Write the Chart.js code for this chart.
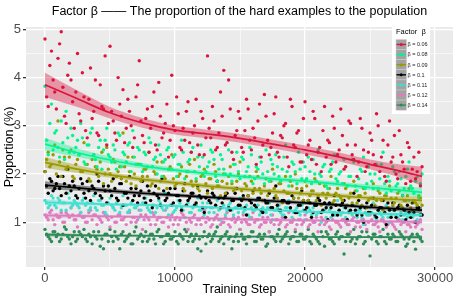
<!DOCTYPE html>
<html>
<head>
<meta charset="utf-8">
<script src="https://cdn.jsdelivr.net/npm/chart.js@4.4.0/dist/chart.umd.min.js"></script>
<style>
body{margin:0;background:#fff}
#wrap{width:457px;height:297px}
</style>
</head>
<body>
<div id="wrap"><canvas id="myChart" width="457" height="297"></canvas></div>
<script>
// training steps where the proportions were logged (two interleaved runs)
var steps=[0,250,500,750,1000,1250,1500,1750,2000,2250,
2500,2750,3000,3250,3500,3750,4000,4250,4500,4750,
5000,5250,5500,5750,6000,6250,6500,6750,7000,7250,
7500,7750,8000,8250,8500,8750,9000,9250,9500,9750,
10000,10250,10500,10750,11000,11250,11500,11750,12000,12250,
12500,12750,13000,13250,13500,13750,14000,14250,14500,14750,
15000,15250,15500,15750,16000,16250,16500,16750,17000,17250,
17500,17750,18000,18250,18500,18750,19000,19250,19500,19750,
20000,20250,20500,20750,21000,21250,21500,21750,22000,22250,
22500,22750,23000,23250,23500,23750,24000,24250,24500,24750,
25000,25250,25500,25750,26000,26250,26500,26750,27000,27250,
27500,27750,28000,28250,28500,28750,29000]
var steps2=[125,375,625,875,1125,1375,1625,1875,2125,2375,
2625,2875,3125,3375,3625,3875,4125,4375,4625,4875,
5125,5375,5625,5875,6125,6375,6625,6875,7125,7375,
7625,7875,8125,8375,8625,8875,9125,9375,9625,9875,
10125,10375,10625,10875,11125,11375,11625,11875,12125,12375,
12625,12875,13125,13375,13625,13875,14125,14375,14625,14875,
15125,15375,15625,15875,16125,16375,16625,16875,17125,17375,
17625,17875,18125,18375,18625,18875,19125,19375,19625,19875,
20125,20375,20625,20875,21125,21375,21625,21875,22125,22375,
22625,22875,23125,23375,23625,23875,24125,24375,24625,24875,
25125,25375,25625,25875,26125,26375,26625,26875,27125,27375,
27625,27875,28125,28375,28625,28875]

var betaLabels=['β = 0.06','β = 0.08','β = 0.09','β = 0.1','β = 0.11','β = 0.12','β = 0.14']
var colors=['#DC143C','#00F590','#999900','#000000','#40E0D0','#DE7CC0','#2E8B57']

var beta006=[4.80,3.40,4.55,3.70,4.40,4.95,3.20,4.05,3.95,2.95,
4.50,3.10,3.60,2.75,4.20,3.30,2.85,3.85,3.35,2.60,
4.65,3.10,2.70,3.45,3.75,2.95,3.30,2.55,3.60,4.35,
2.80,3.15,2.45,3.40,2.60,3.90,2.75,3.05,2.35,4.05,
2.90,3.25,2.50,2.70,3.50,2.45,3.00,2.60,3.30,2.40,
4.45,2.75,3.10,2.55,3.70,4.15,2.65,3.35,2.30,2.90,
3.15,2.45,3.55,2.70,2.95,2.20,3.45,2.60,3.20,2.40,
2.85,3.60,2.35,2.75,3.05,2.15,3.40,2.55,2.90,2.25,
3.50,2.60,2.30,3.15,2.45,2.05,3.40,2.70,2.20,2.95,
2.40,3.35,2.10,2.60,3.05,2.30,1.95,3.15,2.50,2.15,
2.85,2.40,3.25,2.05,2.70,1.85,3.10,2.35,2.00,2.90,
2.25,1.80,2.55,2.10,1.90,2.45,2.15]
var beta006b=[3.60,4.25,3.95,3.35,4.70,3.80,3.05,4.30,3.50,3.70,
3.25,4.10,2.90,3.55,3.15,3.95,2.80,3.40,4.45,3.05,
3.30,2.85,4.00,3.20,2.65,3.55,3.00,2.75,3.85,3.10,
2.65,3.35,2.95,3.70,2.50,3.20,2.85,3.45,2.70,3.00,
3.60,2.55,2.95,3.30,2.65,2.85,3.55,2.40,3.15,2.75,
2.95,3.40,2.50,2.85,3.20,2.60,3.95,2.45,2.80,3.30,
2.55,2.90,3.35,2.50,2.75,3.10,2.35,3.65,2.70,2.55,
3.25,2.45,2.80,3.00,2.35,3.55,2.60,2.85,2.25,3.15,
2.40,2.70,3.30,2.20,2.55,2.90,2.35,2.65,3.20,2.25,
2.50,2.80,2.15,3.10,2.40,2.60,2.25,2.95,2.05,2.45,
2.70,2.20,3.00,2.35,1.95,2.60,2.25,2.80,1.90,2.40,
2.10,2.65,1.85,2.35,2.05,1.75]
var beta008=[3.82,2.40,3.45,2.85,2.55,3.10,2.30,2.75,2.95,2.45,
2.70,3.05,2.25,2.60,2.85,2.40,2.15,2.70,2.50,2.95,
2.35,2.60,2.10,2.80,2.45,2.25,2.65,2.90,2.20,2.50,
2.05,2.40,2.75,2.15,2.35,2.60,1.95,2.30,2.55,2.10,
2.40,2.20,2.70,1.90,2.25,2.45,2.05,2.35,2.60,1.95,
2.15,2.50,2.30,1.85,2.40,2.10,2.65,2.00,2.20,2.45,
1.90,2.30,2.05,2.55,1.80,2.15,2.35,2.00,2.50,1.85,
2.20,2.40,1.95,2.10,2.60,1.75,2.25,2.05,2.45,1.90,
2.15,2.35,1.80,2.00,2.50,1.95,2.20,1.70,2.10,2.40,
1.85,2.05,2.30,1.75,1.95,2.25,1.65,2.10,2.35,1.80,
2.00,1.70,2.20,1.90,2.45,1.60,1.85,2.15,1.75,2.05,
1.55,1.95,2.25,1.70,1.85,1.50,2.00]
var beta008b=[2.70,3.05,2.50,2.90,2.35,2.65,3.30,2.45,2.80,2.55,
2.40,2.75,2.20,2.60,2.95,2.30,2.55,2.10,2.70,2.40,
2.25,2.50,2.85,2.15,2.40,2.60,2.05,2.35,2.55,2.20,
2.45,2.15,2.65,2.30,2.00,2.40,2.25,2.50,2.10,2.35,
1.95,2.20,2.45,2.05,2.30,2.55,1.90,2.15,2.35,2.05,
2.25,2.45,1.95,2.10,2.30,2.00,2.50,1.85,2.20,2.05,
2.35,1.95,2.15,2.40,1.90,2.10,2.25,1.80,2.05,2.30,
2.00,2.15,1.85,2.35,2.05,1.95,2.20,1.80,2.10,2.25,
1.90,2.05,2.30,1.85,2.00,2.15,1.75,2.05,2.25,1.90,
2.00,1.80,2.15,1.95,2.30,1.75,1.90,2.05,1.70,2.15,
1.85,2.00,1.70,2.20,1.80,1.95,1.65,2.05,1.80,1.90,
1.70,2.10,1.75,1.60,1.95,1.80]
var beta009=[2.05,2.45,2.20,2.60,3.10,1.95,2.35,2.15,2.50,1.90,
2.30,2.05,2.65,2.20,1.85,2.40,2.10,2.25,1.80,2.55,
2.00,2.30,1.95,2.15,2.85,1.85,2.05,2.35,1.75,2.20,
1.95,2.10,2.45,1.80,2.00,1.70,2.25,1.90,2.10,2.40,
1.75,1.95,2.15,1.65,2.05,1.85,2.30,1.70,1.95,2.10,
1.60,1.90,2.20,1.75,1.55,2.00,1.80,2.15,1.65,1.85,
2.25,1.50,1.75,1.95,1.60,2.05,1.70,1.45,1.90,1.65,
2.10,1.55,1.80,1.40,1.95,1.60,1.75,2.00,1.50,1.70,
1.85,1.45,1.65,1.90,1.55,1.35,1.75,1.60,1.95,1.45,
1.70,1.50,1.80,1.35,1.60,1.85,1.40,1.55,1.70,1.30,
1.50,1.80,1.45,1.60,1.25,1.55,1.75,1.35,1.50,1.65,
1.30,1.45,1.70,1.25,1.40,1.55,1.35]
var beta009b=[2.30,2.15,2.40,2.00,2.25,2.50,2.10,2.35,1.95,2.20,
2.40,2.05,2.20,1.90,2.30,2.15,1.95,2.45,2.00,2.10,
1.85,2.25,2.05,1.90,2.15,2.35,1.80,2.00,2.20,1.85,
2.10,1.95,1.75,2.05,2.25,1.85,1.95,1.70,2.15,1.90,
1.80,2.00,1.70,1.95,2.20,1.75,1.85,1.65,2.00,1.80,
1.90,1.70,2.05,1.75,1.85,1.60,1.95,1.80,1.70,2.00,
1.65,1.80,1.55,1.85,1.70,1.95,1.60,1.75,1.55,1.85,
1.70,1.50,1.80,1.65,1.60,1.85,1.50,1.70,1.60,1.45,
1.75,1.55,1.65,1.45,1.80,1.60,1.50,1.70,1.40,1.60,
1.55,1.45,1.70,1.50,1.40,1.65,1.55,1.35,1.60,1.45,
1.50,1.35,1.65,1.45,1.55,1.30,1.50,1.40,1.60,1.35,
1.45,1.55,1.30,1.45,1.35,1.50]
var beta010=[2.05,1.60,1.85,1.70,1.95,1.55,1.80,2.10,1.65,1.75,
1.50,1.90,1.60,1.85,1.45,1.70,2.00,1.55,1.75,1.40,
1.65,1.90,1.50,1.80,1.35,1.60,1.95,1.45,1.70,1.55,
1.85,1.40,1.65,1.30,1.75,1.50,1.90,1.45,1.60,1.35,
1.70,1.55,1.25,1.80,1.45,1.60,1.35,1.75,1.50,1.20,
1.65,1.40,1.55,1.85,1.30,1.50,1.60,1.25,1.45,1.70,
1.35,1.55,1.15,1.45,1.65,1.30,1.50,1.20,1.40,1.60,
1.30,1.75,1.25,1.45,1.10,1.40,1.55,1.20,1.35,1.65,
1.25,1.45,1.10,1.35,1.50,1.20,1.40,1.05,1.30,1.55,
1.15,1.35,1.45,1.05,1.25,1.60,1.15,1.30,1.00,1.40,
1.20,1.50,1.10,1.30,1.45,0.95,1.25,1.40,1.10,1.35,
1.55,1.05,1.20,1.40,1.00,1.30,1.15]
var beta010b=[1.75,1.90,1.65,1.80,1.70,1.95,1.60,1.75,1.85,1.55,
1.70,1.80,1.50,1.65,1.75,1.60,1.85,1.50,1.65,1.75,
1.55,1.70,1.45,1.80,1.60,1.50,1.70,1.55,1.40,1.65,
1.50,1.75,1.45,1.60,1.55,1.35,1.65,1.50,1.70,1.40,
1.55,1.45,1.65,1.35,1.50,1.60,1.40,1.55,1.30,1.50,
1.45,1.60,1.35,1.50,1.40,1.55,1.30,1.45,1.60,1.35,
1.45,1.30,1.55,1.40,1.35,1.50,1.25,1.45,1.40,1.30,
1.50,1.35,1.25,1.45,1.40,1.30,1.50,1.20,1.35,1.45,
1.30,1.40,1.20,1.35,1.45,1.25,1.30,1.40,1.15,1.35,
1.25,1.40,1.30,1.20,1.35,1.25,1.45,1.15,1.30,1.20,
1.35,1.15,1.25,1.30,1.20,1.40,1.10,1.25,1.30,1.15,
1.25,1.35,1.10,1.20,1.30,1.15]
var beta011=[1.45,1.30,1.55,1.35,1.50,1.25,1.40,1.60,1.30,1.45,
1.35,1.20,1.50,1.40,1.30,1.55,1.25,1.45,1.35,1.15,
1.50,1.30,1.40,1.20,1.55,1.35,1.25,1.45,1.30,1.10,
1.40,1.50,1.25,1.35,1.20,1.45,1.30,1.60,1.15,1.35,
1.25,1.45,1.30,1.10,1.40,1.20,1.35,1.50,1.25,1.15,
1.40,1.30,1.20,1.45,1.05,1.35,1.25,1.40,1.15,1.30,
1.50,1.20,1.35,1.10,1.25,1.45,1.15,1.30,1.20,1.40,
1.05,1.25,1.35,1.15,1.30,1.45,1.10,1.25,1.20,1.35,
1.05,1.30,1.15,1.40,1.20,1.00,1.25,1.35,1.10,1.20,
1.45,1.15,1.30,1.05,1.20,1.35,1.10,1.25,0.95,1.15,
1.30,1.40,1.05,1.20,1.10,1.35,1.00,1.25,1.15,1.30,
1.05,1.20,1.45,1.10,1.00,1.25,1.15]
var beta011b=[1.40,1.35,1.50,1.30,1.45,1.40,1.25,1.50,1.35,1.40,
1.30,1.45,1.35,1.25,1.40,1.30,1.45,1.35,1.20,1.40,
1.35,1.25,1.45,1.30,1.35,1.20,1.40,1.30,1.35,1.25,
1.40,1.30,1.20,1.35,1.30,1.40,1.25,1.30,1.35,1.20,
1.30,1.40,1.25,1.35,1.20,1.30,1.35,1.25,1.40,1.30,
1.20,1.30,1.35,1.25,1.30,1.15,1.35,1.25,1.30,1.20,
1.30,1.25,1.15,1.30,1.25,1.35,1.20,1.25,1.30,1.15,
1.25,1.30,1.20,1.15,1.30,1.25,1.20,1.30,1.15,1.25,
1.20,1.25,1.30,1.15,1.20,1.25,1.10,1.25,1.20,1.15,
1.25,1.20,1.10,1.25,1.15,1.20,1.25,1.10,1.20,1.15,
1.20,1.10,1.25,1.15,1.20,1.10,1.15,1.25,1.10,1.20,
1.15,1.10,1.20,1.15,1.05,1.15]
var beta012=[1.15,1.05,1.25,0.95,1.10,1.20,1.00,1.15,1.30,1.05,
0.90,1.20,1.10,1.00,1.25,1.15,0.95,1.05,1.20,1.10,
0.90,1.30,1.00,1.15,1.05,0.95,1.20,1.10,1.00,1.25,
0.85,1.15,1.05,1.20,0.95,1.10,1.00,1.25,0.90,1.15,
1.05,0.95,1.20,1.10,0.85,1.00,1.15,1.05,0.95,1.25,
1.10,0.90,1.05,1.15,0.95,1.00,1.20,0.90,1.10,1.05,
0.85,1.15,1.00,0.95,1.20,1.05,0.90,1.10,1.00,0.80,
1.15,1.05,0.95,1.10,0.90,1.20,1.00,0.85,1.05,0.95,
1.15,0.90,1.05,1.00,0.80,1.10,0.95,1.05,0.85,1.15,
1.00,0.90,1.05,0.95,0.80,1.10,1.00,0.90,1.05,0.85,
1.15,0.95,1.00,0.80,1.05,0.90,1.10,0.95,0.85,1.05,
1.00,0.80,0.95,1.10,0.90,1.00,0.85]
var beta012b=[1.10,1.20,1.05,1.15,1.10,1.00,1.20,1.10,1.15,1.05,
1.15,1.10,1.00,1.20,1.05,1.15,1.10,1.00,1.15,1.05,
1.10,1.00,1.15,1.05,1.10,1.20,1.00,1.10,1.05,1.15,
1.05,1.10,0.95,1.15,1.05,1.10,1.00,1.10,1.05,0.95,
1.10,1.05,1.15,1.00,1.05,1.10,0.95,1.05,1.10,1.00,
1.05,0.95,1.10,1.05,1.00,1.10,0.95,1.05,1.00,1.10,
1.00,1.05,0.95,1.10,1.00,1.05,0.95,1.00,1.10,1.00,
0.95,1.05,1.00,1.10,0.95,1.00,1.05,0.95,1.05,1.00,
1.05,0.95,1.00,1.10,0.95,1.05,1.00,0.90,1.05,1.00,
0.95,1.05,1.00,0.95,1.05,0.90,1.00,1.05,0.95,1.00,
1.05,0.95,0.90,1.05,1.00,0.95,1.00,0.90,1.05,0.95,
1.00,0.95,0.90,1.00,0.95,1.05]
var beta014=[0.85,0.70,0.60,0.80,0.75,0.65,0.90,0.70,0.55,0.80,
0.65,0.75,0.85,0.60,0.70,0.80,0.65,0.50,0.45,0.75,
0.85,0.60,0.70,0.45,0.80,0.65,0.75,0.55,0.90,0.70,
0.60,0.80,0.65,0.75,0.55,0.85,0.70,0.60,0.75,0.65,
0.80,0.55,0.70,0.85,0.60,0.75,0.65,0.45,0.40,0.80,
0.70,0.60,0.75,0.90,0.65,0.55,0.80,0.70,0.60,0.75,
0.85,0.65,0.55,0.70,0.80,0.60,0.75,0.65,0.50,0.80,
0.70,0.60,0.85,0.65,0.75,0.55,0.70,0.80,0.60,0.75,
0.65,0.85,0.55,0.70,0.60,0.80,0.50,0.75,0.65,0.55,
0.80,0.70,0.34,0.75,0.60,0.85,0.65,0.70,0.55,0.80,
0.30,0.75,0.60,0.70,0.85,0.55,0.65,0.75,0.60,0.80,
0.70,0.50,0.65,0.75,0.44,0.70,0.60]
var beta014b=[0.75,0.65,0.80,0.70,0.60,0.75,0.85,0.65,0.70,0.60,
0.80,0.70,0.65,0.75,0.55,0.70,0.80,0.65,0.75,0.60,
0.70,0.80,0.65,0.75,0.60,0.70,0.55,0.80,0.65,0.75,
0.70,0.60,0.75,0.65,0.80,0.70,0.55,0.75,0.65,0.70,
0.60,0.75,0.65,0.80,0.70,0.60,0.75,0.65,0.70,0.55,
0.75,0.65,0.80,0.60,0.70,0.75,0.65,0.45,0.70,0.60,
0.75,0.65,0.70,0.80,0.60,0.70,0.65,0.75,0.55,0.70,
0.65,0.75,0.60,0.70,0.80,0.65,0.70,0.60,0.75,0.65,
0.70,0.60,0.75,0.65,0.55,0.70,0.80,0.65,0.60,0.75,
0.65,0.70,0.60,0.75,0.65,0.55,0.70,0.80,0.60,0.70,
0.65,0.75,0.55,0.70,0.60,0.75,0.65,0.70,0.60,0.75,
0.65,0.55,0.70,0.60,0.75,0.65]
var pointSeries=[beta006,beta008,beta009,beta010,beta011,beta012,beta014]
var pointSeries2=[beta006b,beta008b,beta009b,beta010b,beta011b,beta012b,beta014b]

// smoothed trend (loess), with half width of the band
var fitSteps=[0,2500,5000,7500,10000,12500,15000,17500,20000,22500,25000,27500,29000]
var fit006=[3.85,3.56,3.27,3.06,2.91,2.83,2.74,2.62,2.50,2.36,2.20,2.05,1.95]
var fit008=[2.62,2.44,2.29,2.17,2.08,2.01,1.95,1.90,1.85,1.79,1.72,1.66,1.62]
var fit009=[2.24,2.10,1.98,1.89,1.82,1.75,1.69,1.64,1.59,1.55,1.50,1.47,1.45]
var fit010=[1.77,1.71,1.65,1.60,1.56,1.52,1.48,1.44,1.40,1.36,1.31,1.27,1.25]
var fit011=[1.41,1.39,1.37,1.36,1.34,1.31,1.28,1.25,1.22,1.20,1.18,1.16,1.15]
var fit012=[1.14,1.13,1.12,1.11,1.10,1.08,1.06,1.05,1.04,1.03,1.02,1.01,1.00]
var fit014=[0.74,0.73,0.72,0.72,0.71,0.71,0.70,0.70,0.70,0.69,0.69,0.69,0.69]
var band006=[0.25,0.17,0.12,0.10,0.09,0.09,0.09,0.09,0.09,0.09,0.10,0.14,0.20]
var band008=[0.13,0.09,0.07,0.06,0.05,0.05,0.05,0.05,0.05,0.05,0.06,0.08,0.10]
var band009=[0.11,0.08,0.06,0.05,0.05,0.05,0.05,0.05,0.05,0.05,0.05,0.07,0.09]
var band010=[0.08,0.06,0.05,0.04,0.04,0.04,0.04,0.04,0.04,0.04,0.04,0.05,0.07]
var band011=[0.06,0.04,0.03,0.03,0.03,0.03,0.03,0.03,0.03,0.03,0.03,0.04,0.05]
var band012=[0.05,0.04,0.03,0.03,0.03,0.03,0.03,0.03,0.03,0.03,0.03,0.03,0.05]
var band014=[0.04,0.03,0.02,0.02,0.02,0.02,0.02,0.02,0.02,0.02,0.02,0.03,0.04]
var fits=[fit006,fit008,fit009,fit010,fit011,fit012,fit014]
var bands=[band006,band008,band009,band010,band011,band012,band014]

// grid positions (labelled ones are the majors)
var xGrid=[0,5000,10000,15000,20000,25000,30000]
var xTicks=[0,10000,20000,30000]
var yGrid=[0.5,1,1.5,2,2.5,3,3.5,4,4.5,5]
var yTicks=[1,2,3,4,5]

function withAlpha(hex,a){
    var r=parseInt(hex.slice(1,3),16),g=parseInt(hex.slice(3,5),16),b=parseInt(hex.slice(5,7),16)
    return 'rgba('+r+','+g+','+b+','+a+')'
}

var datasets=[]
for (let i = 0; i < pointSeries.length; i++) {
    var pts=steps.map((s,j)=>({x:s,y:pointSeries[i][j]}))
    pts=pts.concat(steps2.map((s,j)=>({x:s,y:pointSeries2[i][j]})))
    datasets.push({
        type:'scatter',
        label:betaLabels[i],
        data:pts,
        backgroundColor:colors[i],
        borderWidth:0,
        pointRadius:1.7,
        order:2
    })
}
for (let i = 0; i < fits.length; i++) {
    datasets.push({
        type:'line',
        data:fitSteps.map((s,j)=>({x:s,y:fits[i][j]+bands[i][j]})),
        borderWidth:0,
        pointRadius:0,
        fill:false,
        cubicInterpolationMode:'monotone',
        order:1
    })
    datasets.push({
        type:'line',
        data:fitSteps.map((s,j)=>({x:s,y:fits[i][j]-bands[i][j]})),
        borderWidth:0,
        pointRadius:0,
        fill:'-1',
        backgroundColor:withAlpha(colors[i],0.4),
        cubicInterpolationMode:'monotone',
        order:1
    })
    datasets.push({
        type:'line',
        data:fitSteps.map((s,j)=>({x:s,y:fits[i][j]})),
        borderColor:colors[i],
        borderWidth:1.7,
        pointRadius:0,
        fill:false,
        cubicInterpolationMode:'monotone',
        order:0
    })
}

// grey panel like ggplot
var panelBg={
    id:'panelBg',
    beforeDraw(chart){
        var a=chart.chartArea, ctx=chart.ctx
        ctx.save()
        ctx.fillStyle='#EBEBEB'
        ctx.fillRect(a.left,a.top,a.right-a.left,a.bottom-a.top)
        ctx.restore()
    }
}

// title + legend box drawn by hand
var titleLegend={
    id:'titleLegend',
    afterDraw(chart){
        var a=chart.chartArea, ctx=chart.ctx
        ctx.save()
        ctx.fillStyle='#000'
        ctx.font='12.5px "Liberation Sans", Arial, sans-serif'
        ctx.textAlign='center'
        ctx.textBaseline='middle'
        ctx.fillText('Factor β —— The proportion of the hard examples to the population',(a.left+a.right)/2,12)

        var x0=392,y0=24,w=38,h=90
        ctx.fillStyle='#fff'
        ctx.fillRect(x0,y0,w,h)
        ctx.textAlign='left'
        ctx.fillStyle='#000'
        ctx.font='7.5px "Liberation Sans", Arial, sans-serif'
        ctx.fillText('Factor  β',x0+4,y0+7.5)
        ctx.font='5.5px "Liberation Sans", Arial, sans-serif'
        for (let i = 0; i < betaLabels.length; i++) {
            var ky=y0+15.5+i*10.1
            ctx.fillStyle='#a3a3a3'
            ctx.fillRect(x0+4,ky,10.5,10.1)
            ctx.strokeStyle='#d0d0d0'
            ctx.lineWidth=0.5
            ctx.strokeRect(x0+4,ky,10.5,10.1)
            ctx.strokeStyle=colors[i]
            ctx.lineWidth=1.4
            ctx.beginPath()
            ctx.moveTo(x0+4.5,ky+5)
            ctx.lineTo(x0+14,ky+5)
            ctx.stroke()
            ctx.fillStyle=colors[i]
            ctx.beginPath()
            ctx.arc(x0+9.2,ky+5,1.5,0,Math.PI*2)
            ctx.fill()
            ctx.fillStyle='#222'
            ctx.fillText(betaLabels[i],x0+15.5,ky+5.3)
        }
        ctx.restore()
    }
}

var near=(list,v)=>list.some(t=>Math.abs(t-v)<1e-6)

var ctx=document.getElementById('myChart').getContext('2d')
var myChart=new Chart(ctx,{
    type:'scatter',
    data:{datasets:datasets},
    options:{
        responsive:false,
        devicePixelRatio:1,
        animation:false,
        layout:{padding:{top:27,right:4,left:0,bottom:0}},
        plugins:{legend:{display:false},tooltip:{enabled:false},title:{display:false}},
        scales:{
            x:{
                type:'linear',
                min:-1460,
                max:31380,
                afterBuildTicks(s){ s.ticks=xGrid.map(v=>({value:v})) },
                afterFit(s){ s.height=30 },
                border:{display:false},
                grid:{
                    color:'#ffffff',
                    lineWidth:c=>near(xTicks,c.tick.value)?1.3:0.6,
                    tickColor:c=>near(xTicks,c.tick.value)?'#333333':'rgba(0,0,0,0)',
                    tickLength:3
                },
                ticks:{
                    autoSkip:false,
                    maxRotation:0,
                    padding:1,
                    color:'#4D4D4D',
                    font:{family:'"Liberation Sans", Arial, sans-serif',size:13},
                    callback:v=>near(xTicks,v)?String(v):''
                },
                title:{
                    display:true,
                    text:'Training Step',
                    color:'#000',
                    padding:{top:0,bottom:0},
                    font:{family:'"Liberation Sans", Arial, sans-serif',size:12.5}
                }
            },
            y:{
                type:'linear',
                min:0.07,
                max:5.05,
                afterBuildTicks(s){ s.ticks=yGrid.map(v=>({value:v})) },
                afterFit(s){ s.width=26 },
                border:{display:false},
                grid:{
                    color:'#ffffff',
                    lineWidth:c=>near(yTicks,c.tick.value)?1.3:0.6,
                    tickColor:c=>near(yTicks,c.tick.value)?'#333333':'rgba(0,0,0,0)',
                    tickLength:3
                },
                ticks:{
                    autoSkip:false,
                    padding:2,
                    color:'#4D4D4D',
                    font:{family:'"Liberation Sans", Arial, sans-serif',size:13},
                    callback:v=>near(yTicks,v)?String(v):''
                },
                title:{
                    display:true,
                    text:'Proportion (%)',
                    color:'#000',
                    padding:{top:2,bottom:0},
                    font:{family:'"Liberation Sans", Arial, sans-serif',size:12.5}
                }
            }
        }
    },
    plugins:[panelBg,titleLegend]
})
</script>
</body>
</html>
